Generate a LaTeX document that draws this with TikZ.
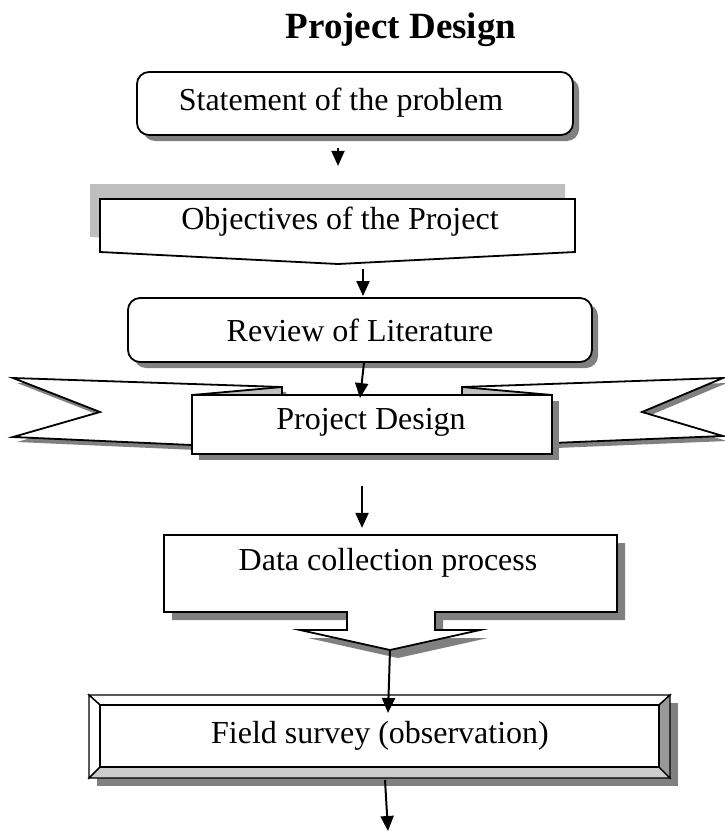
\documentclass[tikz,border=0pt]{standalone}
\usepackage{fontspec}
\setmainfont{Liberation Serif}
\usetikzlibrary{arrows.meta,calc}

\tikzset{
  body/.style={font=\fontsize{32}{38}\selectfont, inner sep=0pt},
  titletext/.style={font=\fontsize{37}{44}\selectfont\bfseries, inner sep=0pt},
  flowarrow/.style={line width=2pt, -{Triangle[length=15pt,width=13pt]}},
  outline/.style={draw=black, line width=1.8pt, fill=white, line join=miter},
  dropshadow/.style={fill=black!50, draw=none},
  paleshadow/.style={fill=black!25, draw=none},
  fold/.style={draw=black, line width=1.8pt, fill=black!25},
  roundbox/.style={outline, rounded corners=12pt, inner sep=0pt},
}

\begin{document}
\begin{tikzpicture}[x=1pt,y=-1pt]
\useasboundingbox (0,0) rectangle (724,832);

% heading
\node[titletext] (title) at (401,30) {Project Design};

% statement of the problem
\fill[dropshadow, rounded corners=12pt] (143,78) rectangle (579,141);
\node[roundbox, minimum width=436pt, minimum height=63pt] (stmt) at (355,103.5) {};
\node[body] (stmttext) at (341,103) {Statement of the problem};

% objectives: box with a shallow pointed bottom and a pale offset shadow
\fill[paleshadow] (90,184) -- (565,184) -- (565,237) -- (328,249) -- (90,237) -- cycle;
\draw[outline] (100,199) coordinate (objnw) -- (575,199) -- (575,252)
  -- (338,264) coordinate (objtip) -- (100,252) -- cycle;
\node[body] (obj) at (340,222) {Objectives of the Project};

% review of literature
\fill[dropshadow, rounded corners=12pt] (134,304) rectangle (598,368);
\node[roundbox, minimum width=464pt, minimum height=64pt] (review) at (360,330) {};
\node[body] (reviewtext) at (360,330) {Review of Literature};

% ribbon banner: tails with shadows, folds, then the front panel
\fill[dropshadow] (17,383) -- (286,392) -- (286,450) -- (196,450) -- (17,442) -- (104,417) -- cycle;
\fill[dropshadow] (727,383) -- (466,392) -- (466,448) -- (556,448) -- (727,441) -- (646,417) -- cycle;
\draw[outline] (13,378) -- (282,387) -- (282,445) -- (192,445) -- (13,437) -- (100,412) -- cycle;
\draw[outline] (723,378) -- (462,387) -- (462,443) -- (552,443) -- (723,436) -- (642,412) -- cycle;
\draw[fold] (192,395) -- (282,387) -- (282,395) -- cycle;
\draw[fold] (552,395) -- (462,387) -- (462,395) -- cycle;
\fill[dropshadow] (199,401) rectangle (559,460);
\node[outline, minimum width=360pt, minimum height=59pt, inner sep=0pt] (pd) at (372,424.5) {};
\node[body] (pdtext) at (371,422) {Project Design};

% data collection callout
\fill[dropshadow] (172,543) -- (625,543) -- (625,620) -- (443,620) -- (443,638) -- (488,638)
  -- (398,658) -- (308,638) -- (355,638) -- (355,620) -- (172,620) -- cycle;
\draw[outline] (164,535) -- (617,535) -- (617,612) -- (435,612) -- (435,630) -- (480,630)
  -- (390,650) coordinate (dctip) -- (300,630) -- (347,630) -- (347,612) -- (164,612) -- cycle;
\node[body] (dc) at (388,563) {Data collection process};

% field survey: bevelled frame
\fill[dropshadow] (97,703) rectangle (678,786);
\begin{scope}[draw=black, line width=1.4pt, line join=miter]
  \filldraw[fill=white] (89,695) -- (670,695) -- (659,705) -- (100,705) -- cycle;
  \filldraw[fill=white] (89,695) -- (100,705) -- (100,767) -- (89,778) -- cycle;
  \filldraw[fill=black!20] (89,778) -- (100,767) -- (659,767) -- (670,778) -- cycle;
  \filldraw[fill=black!40] (670,695) -- (670,778) -- (659,767) -- (659,705) -- cycle;
  \filldraw[fill=white, line width=1.8pt] (100,705) rectangle (659,767);
\end{scope}
\coordinate (fsnorth) at (388,713);
\coordinate (fssouth) at (385,780);
\coordinate (fsend) at (388,831);
\node[body] (fs) at (380,736) {Field survey (observation)};

% connectors
\draw[flowarrow] ($(stmt.south)+(-17,12)$) -- ($(stmt.south)+(-17,30)$);
\draw[flowarrow] ($(review.north)+(3,-28)$) -- ($(review.north)+(3,-1)$);
\draw[flowarrow] ($(review.south)+(4,0)$) -- ($(pd.north)+(-12,4)$);
\draw[flowarrow] ($(pd.south)+(-10,31)$) -- ($(pd.south)+(-10,73)$);
\draw[flowarrow] (dctip) -- (fsnorth);
\draw[flowarrow] (fssouth) -- (fsend);
\end{tikzpicture}
\end{document}
